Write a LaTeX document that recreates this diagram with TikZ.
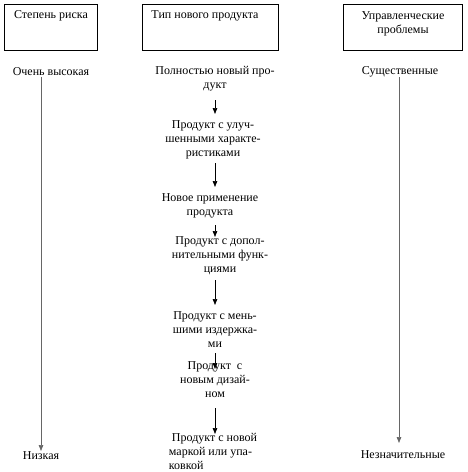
\documentclass[tikz,border=0pt]{standalone}
\usepackage{fontspec}
\setmainfont{Liberation Serif}
\usetikzlibrary{arrows.meta}
\begin{document}
\begin{tikzpicture}[x=1pt,y=-1pt,
  hbox/.style={draw,line width=0.8pt,minimum width=#1,minimum height=46pt,inner sep=0pt},
  lbl/.style={font=\fontsize{12}{14}\selectfont,align=center,inner sep=0pt},
  arr/.style={-{Triangle[length=6pt,width=4.5pt]},line width=0.7pt},
  garr/.style={-{Triangle[length=6pt,width=4.5pt]},line width=0.7pt,draw=black!60,fill=black!60}]
\useasboundingbox (0,0) rectangle (467,472);
% header boxes
\node[hbox=93pt] (b1) at (50.5,27) {};
\node[hbox=136pt] (b2) at (210,27) {};
\node[hbox=119pt] (b3) at (403,27) {};
\node[lbl] (h1) at (51,16) {Степень риска};
\node[lbl] (h2) at (205,16) {Тип нового продукта};
\node[lbl] (h3) at (403,23.5) {Управленческие\\проблемы};
% side labels
\node[lbl] (l1) at (51,72) {Очень высокая};
\node[lbl] (l2) at (41,456) {Низкая};
\node[lbl] (r1) at (400,72) {Существенные};
\node[lbl] (r2) at (403,455) {Незначительные};
% center column
\node[lbl] (t1) at (215,78.5) {Полностью новый про-\\дукт};
\node[lbl] (t2) at (213,139.5) {Продукт с улуч-\\шенными характе-\\ристиками};
\node[lbl] (t3) at (210,206) {Новое применение\\продукта};
\node[lbl] (t4) at (220,256) {Продукт с допол-\\нительными функ-\\циями};
\node[lbl] (t5) at (215,329.5) {Продукт с мень-\\шими издержка-\\ми};
\node[lbl] (t6) at (215,380) {Продукт\ \ с\\новым дизай-\\ном};
\node[lbl,align=left] (t7) at (213,451) {\ Продукт с новой\\маркой или упа-\\ковкой};
% arrow ends
\coordinate (a1s) at (215,100); \coordinate (a1e) at (215,114);
\coordinate (a2s) at (215,163); \coordinate (a2e) at (215,187);
\coordinate (a3s) at (215,225); \coordinate (a3e) at (215,237);
\coordinate (a4s) at (215,280); \coordinate (a4e) at (215,305);
\coordinate (a5s) at (215,353); \coordinate (a5e) at (215,369);
\coordinate (a6s) at (215,408); \coordinate (a6e) at (215,434);
\coordinate (ls) at (41,77); \coordinate (le) at (41,451);
\coordinate (rs) at (399,77); \coordinate (re) at (399,443);
\draw[arr] (a1s) -- (a1e);
\draw[arr] (a2s) -- (a2e);
\draw[arr] (a3s) -- (a3e);
\draw[arr] (a4s) -- (a4e);
\draw[arr] (a5s) -- (a5e);
\draw[arr] (a6s) -- (a6e);
\draw[garr] (ls) -- (le);
\draw[garr] (rs) -- (re);
\end{tikzpicture}
\end{document}
